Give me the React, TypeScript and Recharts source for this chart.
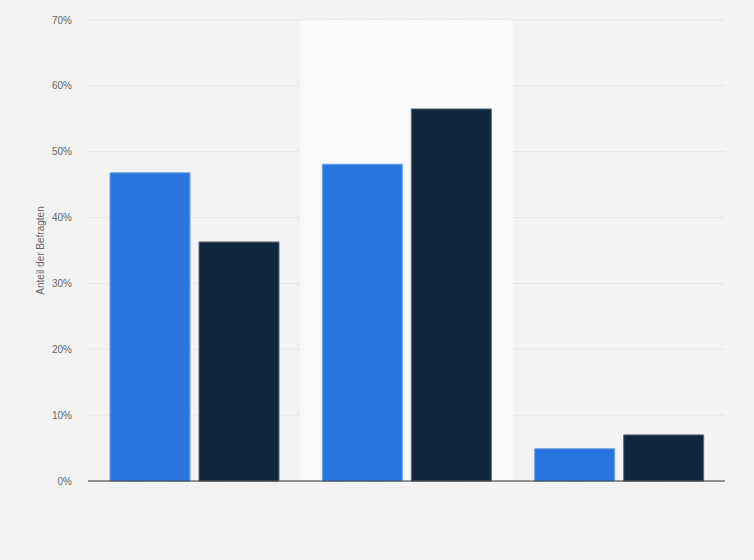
import {
  BarChart,
  Bar,
  XAxis,
  YAxis,
  CartesianGrid,
  ReferenceArea,
  ReferenceLine,
} from "recharts";

// Values (percent of respondents)
const categories = ["Gruppe A", "Gruppe B", "Gruppe C"];
const seriesOne = [46.8, 48.1, 4.9];
const seriesTwo = [36.3, 56.5, 7.0];
const yTicks = [0, 10, 20, 30, 40, 50, 60, 70];

const data = categories.map((name, i) => ({
  name,
  first: seriesOne[i],
  second: seriesTwo[i],
}));

const FONT = "'Liberation Sans', Arial, sans-serif";

export default function App() {
  return (
    <div
      style={{
        position: "absolute",
        left: 0,
        top: 0,
        width: 754,
        height: 560,
        background: "#f3f3f3",
        fontFamily: FONT,
      }}
    >
      <BarChart
        width={754}
        height={560}
        data={data}
        margin={{ top: 20, right: 29, left: 0, bottom: 79 }}
        barGap={9}
        barCategoryGap={22}
      >
        {/* highlighted middle category */}
        <ReferenceArea
          x1={categories[1]}
          x2={categories[1]}
          fill="#f9f9f9"
          fillOpacity={1}
          strokeOpacity={0}
        />
        <CartesianGrid
          vertical={false}
          stroke="#d4d4d4"
          strokeDasharray="1 1.5"
        />
        <XAxis
          dataKey="name"
          height={0}
          tick={false}
          tickLine={false}
          axisLine={false}
        />
        <YAxis
          width={88}
          domain={[0, 70]}
          ticks={yTicks}
          tickFormatter={(v: number) => `${v}%`}
          tick={{ fontSize: 10, fill: "#666666", fontFamily: FONT }}
          tickLine={false}
          axisLine={false}
          tickSize={0}
          tickMargin={16}
          label={{
            value: "Anteil der Befragten",
            angle: -90,
            position: "insideLeft",
            offset: 40,
            fontSize: 10,
            fill: "#666666",
            fontFamily: FONT,
            style: { textAnchor: "middle" },
          }}
        />
        <Bar
          dataKey="first"
          name="Serie 1"
          fill="#2876dd"
          stroke="#6aa3ea"
          strokeWidth={1}
          isAnimationActive={false}
        />
        <Bar
          dataKey="second"
          name="Serie 2"
          fill="#10263d"
          stroke="#5d6b79"
          strokeWidth={1}
          isAnimationActive={false}
        />
        <ReferenceLine y={0} stroke="#333333" strokeWidth={1} />
      </BarChart>
    </div>
  );
}
